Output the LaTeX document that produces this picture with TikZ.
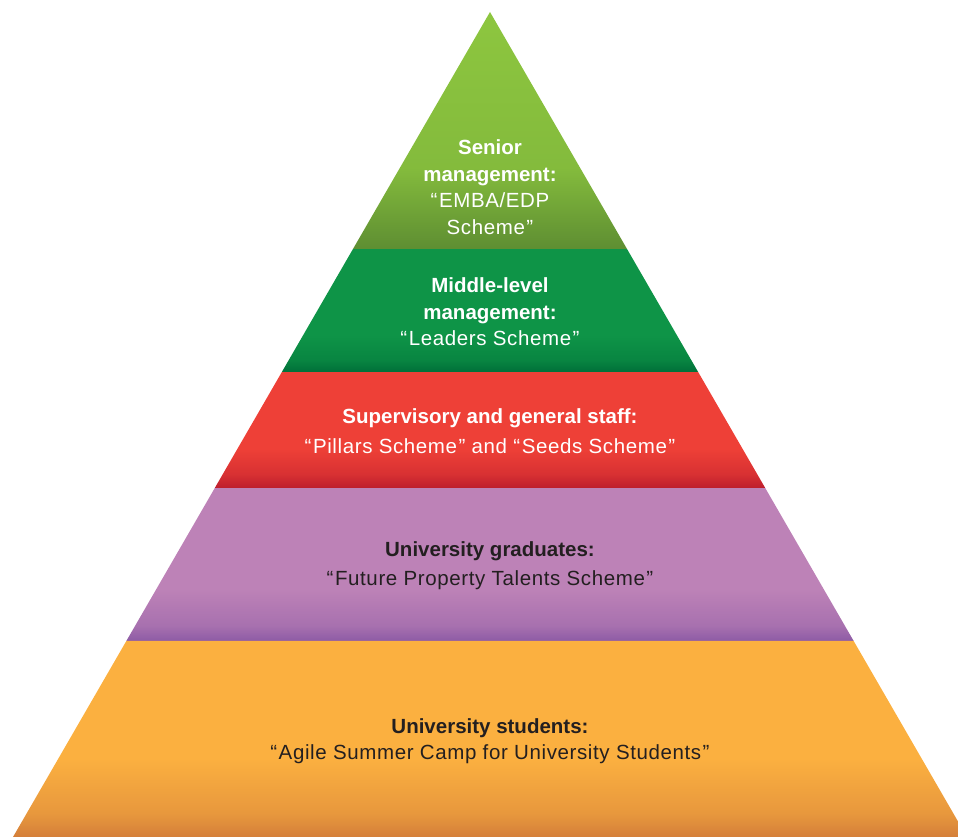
\documentclass[tikz,border=0pt]{standalone}
\usepackage{fontspec}
\setmainfont{Liberation Sans}
\newfontfamily\schemeFont[LetterSpace=3]{Liberation Sans}
\usetikzlibrary{calc}

\definecolor{seniorTop}{HTML}{8DC63F}
\definecolor{seniorBottom}{HTML}{5E8E32}
\definecolor{middleTop}{HTML}{0E9447}
\definecolor{middleBottom}{HTML}{006F39}
\definecolor{staffTop}{HTML}{EE4037}
\definecolor{staffBottom}{HTML}{BD1E2D}
\definecolor{gradTop}{HTML}{BD82B7}
\definecolor{gradBottom}{HTML}{8D5BA5}
\definecolor{studentTop}{HTML}{FBB040}
\definecolor{studentBottom}{HTML}{D47F3A}
\definecolor{darkText}{HTML}{231F20}
\pgfdeclareverticalshading{seniorShade}{100bp}{color(0bp)=(seniorBottom); color(25bp)=(seniorBottom); color(42bp)=(seniorTop!80!seniorBottom); color(75bp)=(seniorTop); color(100bp)=(seniorTop)}
\pgfdeclareverticalshading{middleShade}{100bp}{color(0bp)=(middleBottom); color(25bp)=(middleBottom); color(30bp)=(middleTop!60!middleBottom); color(40bp)=(middleTop); color(75bp)=(middleTop); color(100bp)=(middleTop)}
\pgfdeclareverticalshading{staffShade}{100bp}{color(0bp)=(staffBottom); color(25bp)=(staffBottom); color(31bp)=(staffTop!55!staffBottom); color(42bp)=(staffTop); color(75bp)=(staffTop); color(100bp)=(staffTop)}
\pgfdeclareverticalshading{gradShade}{100bp}{color(0bp)=(gradBottom); color(25bp)=(gradBottom); color(30bp)=(gradTop!55!gradBottom); color(42bp)=(gradTop); color(75bp)=(gradTop); color(100bp)=(gradTop)}
\pgfdeclareverticalshading{studentShade}{100bp}{color(0bp)=(studentBottom); color(25bp)=(studentBottom); color(31bp)=(studentTop!50!studentBottom); color(45bp)=(studentTop); color(75bp)=(studentTop); color(100bp)=(studentTop)}
\tikzstyle{layerLabel}=[align=center,inner sep=0pt,font=\fontsize{20.5}{26.5}\selectfont]
\newcommand{\openQ}{“\kern1.5pt}
\newcommand{\closeQ}{\kern1.5pt”}

\begin{document}
\begin{tikzpicture}[x=1pt,y=-1pt]
\useasboundingbox (0,0) rectangle (958,837);
\clip (0,0) rectangle (958,837);
        \coordinate (apex) at (490,12);
        \coordinate (baseL) at (13,837);
        \coordinate (baseR) at (967,837);
        \foreach \t [count=\i] in {0,0.2873,0.4364,0.5770,0.7624,1} {
                \coordinate (L\i) at ($(apex)!\t!(baseL)$);
                \coordinate (R\i) at ($(apex)!\t!(baseR)$);
        }
        \shade[shading=seniorShade] (L1) -- (L2) -- (R2) -- cycle;
        \shade[shading=middleShade] (L2) -- (L3) -- (R3) -- (R2) -- cycle;
        \shade[shading=staffShade] (L3) -- (L4) -- (R4) -- (R3) -- cycle;
        \shade[shading=gradShade] (L4) -- (L5) -- (R5) -- (R4) -- cycle;
        \shade[shading=studentShade] (L5) -- (L6) -- (R6) -- (R5) -- cycle;
        \node[layerLabel,text=white] (senior) at (490,187)
                {\textbf{Senior}\\\textbf{management:}\\\schemeFont\openQ EMBA/EDP\\\schemeFont Scheme\closeQ};
        \node[layerLabel,text=white] (middle) at (490,312)
                {\textbf{Middle-level}\\\textbf{management:}\\\schemeFont\openQ Leaders Scheme\closeQ};
        \node[layerLabel,text=white,font=\fontsize{20.5}{30}\selectfont] (staff) at (490,431)
                {\textbf{Supervisory and general staff:}\\\schemeFont\openQ Pillars Scheme\closeQ{} and \openQ Seeds Scheme\closeQ};
        \node[layerLabel,text=darkText,font=\fontsize{20.5}{29}\selectfont] (grad) at (490,566)
                {\textbf{University graduates:}\\\schemeFont\openQ Future Property Talents Scheme\closeQ};
        \node[layerLabel,text=darkText] (student) at (490,741)
                {\textbf{University students:}\\\schemeFont\openQ Agile Summer Camp for University Students\closeQ};
\end{tikzpicture}
\end{document}
